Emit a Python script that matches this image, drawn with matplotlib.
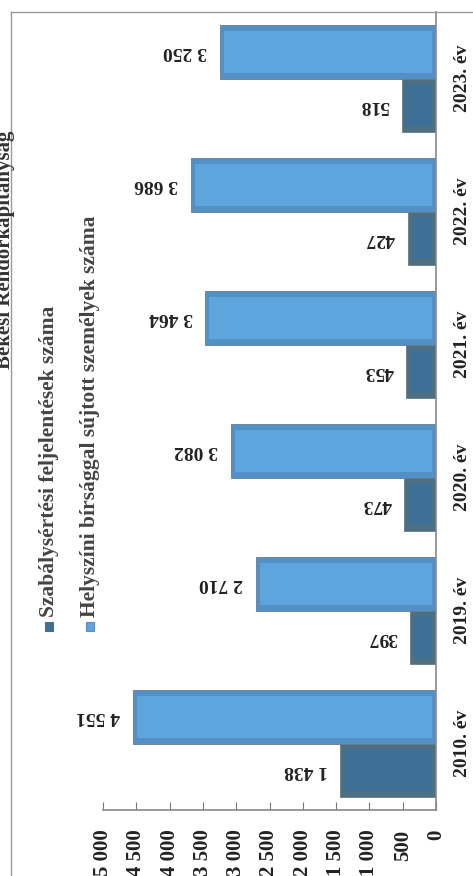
import matplotlib.pyplot as plt
from matplotlib.lines import Line2D
from matplotlib.patches import Rectangle
import numpy as np

# Chart data
years = ['2010. év', '2019. év', '2020. év', '2021. év', '2022. év', '2023. év']
szabalysertes = [1438, 397, 473, 453, 427, 518]
helyszini = [4551, 2710, 3082, 3464, 3686, 3250]
series_names = ['Szabálysértési feljelentések száma',
                'Helyszíni bírsággal sújtott személyek száma']
title = 'Békési Rendőrkapitányság'
value_ticks = list(range(0, 5001, 500))

# colours: (outer bevel, inner face)
dark_cols = ('#4e6e82', '#3e6f95')
light_cols = ('#5390c6', '#5ea4dd')

W, H = 473, 876
plt.rcParams['font.family'] = ['Liberation Serif', 'DejaVu Serif']
fig = plt.figure(figsize=(W / 100, H / 100), dpi=100)
fig.patch.set_facecolor('white')

def fx(px):
    return px / W

def fy(px):
    return 1 - px / H

# plot area (chart is shown rotated, values grow to the left)
ax = fig.add_axes([fx(103), fy(810), fx(436) - fx(103), fy(12) - fy(810)])

y = np.arange(len(years))
bh = 0.4
inset_y = 0.04
inset_x = 60


def bevel_bars(pos, vals, cols):
    vals = np.array(vals)
    ax.barh(pos, vals, height=bh, color=cols[0], edgecolor='#647c8c', linewidth=0.6, zorder=2)
    ax.barh(pos, vals - 2 * inset_x, left=inset_x, height=bh - 2 * inset_y,
            color=cols[1], linewidth=0, zorder=3)


bevel_bars(y - bh / 2, szabalysertes, dark_cols)
bevel_bars(y + bh / 2, helyszini, light_cols)

# data labels (upside down as in the scan)
for i in range(len(years)):
    for off, v in ((-bh / 2, szabalysertes[i]), (bh / 2, helyszini[i])):
        txt = f'{v:,}'.replace(',', ' ')
        ax.annotate(txt, (v, y[i] + off), xytext=(-9, 0), textcoords='offset points',
                    rotation=180, ha='right', va='center', fontsize=14,
                    fontweight='bold', color='#222222')

ax.set_xlim(5000, 0)
ax.set_ylim(-0.5, len(years) - 0.5)
ax.set_xticks(value_ticks)
ax.set_xticklabels([f'{t:,}'.replace(',', ' ') for t in value_ticks])
ax.set_yticks(y)
ax.set_yticklabels(years)
ax.yaxis.tick_right()

ax.tick_params(axis='x', direction='in', length=6, color='#777777', pad=14,
               labelrotation=90, labelsize=15, labelcolor='#222222')
ax.tick_params(axis='y', length=0, pad=13, labelrotation=90, labelsize=14,
               labelcolor='#222222')
for lab in ax.get_xticklabels():
    lab.set_fontweight('bold')
for lab in ax.get_yticklabels():
    lab.set_fontweight('bold')
    lab.set_verticalalignment('center')

for s in ['top', 'left']:
    ax.spines[s].set_visible(False)
for s in ['bottom', 'right']:
    ax.spines[s].set_color('#888888')
    ax.spines[s].set_linewidth(1.2)

# outer chart border
fig.add_artist(Line2D([fx(11), 1], [fy(12), fy(12)], color='#999999', lw=1))
fig.add_artist(Line2D([fx(11), fx(11)], [0, fy(12)], color='#999999', lw=1))

# title, partly cut off at the left edge as in the scan
fig.text(fx(5), fy(250), title, rotation=90, ha='center', va='center',
         fontsize=15, fontweight='bold', color='#333333')

# legend drawn rotated
for xc, name, cols in ((49, series_names[0], dark_cols), (90, series_names[1], light_cols)):
    fig.add_artist(Rectangle((fx(xc - 4), fy(631)), fx(8), fy(622) - fy(631),
                             facecolor=cols[1], edgecolor=cols[0], lw=0.8))
    fig.text(fx(xc), fy(617), name, rotation=90, ha='center', va='bottom',
             fontsize=15.5, fontweight='bold', color='#444444')

fig.savefig('out.png', dpi=100)
